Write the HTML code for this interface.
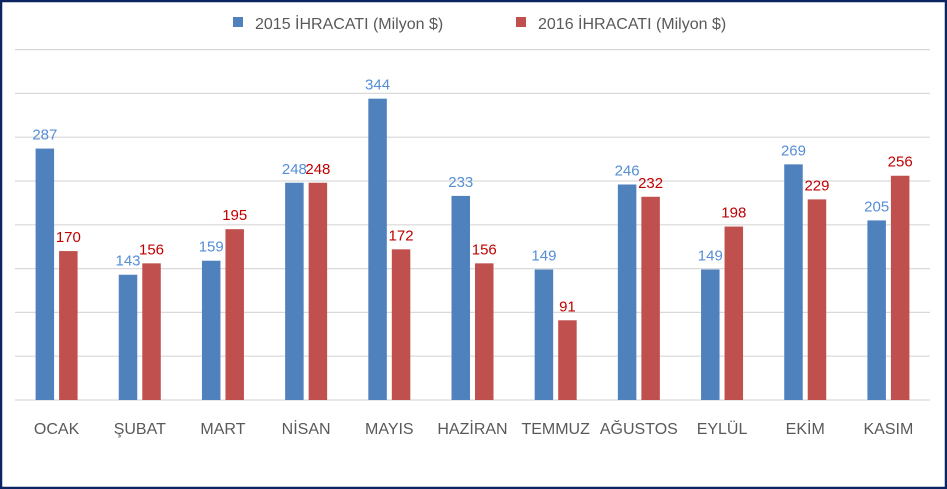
<!DOCTYPE html>
<html><head><meta charset="utf-8"><style>
body{margin:0;background:#fff}
svg{display:block;font-family:"Liberation Sans",sans-serif}
</style></head><body>
<svg id="c" width="947" height="489">
<rect x="1" y="1" width="945" height="487" fill="#fff" stroke="#0c2461" stroke-width="2.5"/>
<g id="grid"></g><g id="bars"></g><g id="labels"></g>
<g>
<rect x="233" y="17" width="10" height="10" fill="#4f81bd"/>
<text x="255" y="29" font-size="16" fill="#595959">2015 İHRACATI (Milyon $)</text>
<rect x="516" y="17" width="10" height="10" fill="#c0504d"/>
<text x="538" y="29" font-size="16" fill="#595959">2016 İHRACATI (Milyon $)</text>
</g>
</svg>
<script>
const categories=["OCAK","ŞUBAT","MART","NİSAN","MAYIS","HAZİRAN","TEMMUZ","AĞUSTOS","EYLÜL","EKİM","KASIM"];
const s2015=[287,143,159,248,344,233,149,246,149,269,205];
const s2016=[170,156,195,248,172,156,91,232,198,229,256];
const gridTicks=[0,50,100,150,200,250,300,350,400];
const L=15,R=930,B=400,pxPer=43.8/50;
const slot=(R-L)/categories.length;
const y=v=>B-v*pxPer;
const xc=i=>L+slot*(i+0.5);
const NS="http://www.w3.org/2000/svg";
function mk(t,a,p){const e=document.createElementNS(NS,t);for(const k in a)e.setAttribute(k,a[k]);p.appendChild(e);return e;}
const g=document.getElementById('grid'),bg=document.getElementById('bars'),lg=document.getElementById('labels');
gridTicks.forEach(t=>{const l=mk('line',{x1:L,x2:R,y1:y(t),y2:y(t),stroke:'#d9d9d9','stroke-width':1.2},g);

});
const bw=18.5,gap=5;
categories.forEach((c,i)=>{
 const cx=xc(i);
 const b1=mk('rect',{x:cx-gap/2-bw,y:y(s2015[i]),width:bw,height:s2015[i]*pxPer,fill:'#4f81bd'},bg);
 
 
 const b2=mk('rect',{x:cx+gap/2,y:y(s2016[i]),width:bw,height:s2016[i]*pxPer,fill:'#c0504d'},bg);
 
 
 const t1=mk('text',{x:cx-gap/2-bw/2,y:y(s2015[i])-9,'font-size':15,fill:'#558ed5','text-anchor':'middle'},lg);t1.textContent=s2015[i];
 
 
 const t2=mk('text',{x:cx+gap/2+bw/2,y:y(s2016[i])-9,'font-size':15,fill:'#c00000','text-anchor':'middle'},lg);t2.textContent=s2016[i];
 
 
 const tl=mk('text',{x:cx,y:434,'font-size':16,fill:'#595959','text-anchor':'middle'},lg);tl.textContent=c;
 
 
});
</script>
</body></html>
